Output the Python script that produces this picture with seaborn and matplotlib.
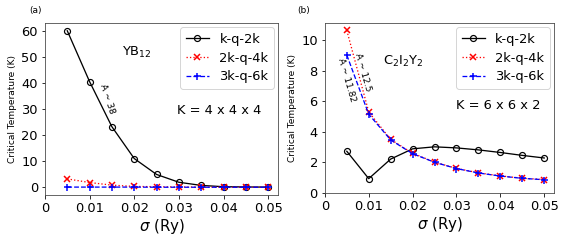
import numpy as np
import pandas as pd
import matplotlib
matplotlib.use("Agg")
import matplotlib.pyplot as plt
import seaborn as sns

sigma = [0.005, 0.01, 0.015, 0.02, 0.025, 0.03, 0.035, 0.04, 0.045, 0.05]
series_names = ["k-q-2k", "2k-q-4k", "3k-q-6k"]

yb12_kq2k = [60.0, 40.5, 23.2, 11.0, 4.9, 1.9, 0.7, 0.2, 0.1, 0.05]
yb12_2kq4k = [3.2, 1.8, 0.8, 0.3, 0.2, 0.1, 0.05, 0.0, 0.0, 0.0]
yb12_3kq6k = [0.05, 0.05, 0.05, 0.05, 0.0, 0.0, 0.0, 0.0, 0.0, 0.0]

c2i2y2_kq2k = [2.73, 0.94, 2.22, 2.89, 3.02, 2.95, 2.82, 2.65, 2.46, 2.29]
c2i2y2_2kq4k = [10.63, 5.30, 3.50, 2.60, 2.02, 1.61, 1.32, 1.12, 0.97, 0.88]
c2i2y2_3kq6k = [9.02, 5.15, 3.47, 2.57, 2.01, 1.60, 1.31, 1.11, 0.96, 0.87]

styles = [
    dict(color="black", linestyle="-", marker="o", markerfacecolor="none", markeredgecolor="black", markersize=6, markeredgewidth=1.2),
    dict(color="red", linestyle=":", marker="x", markeredgecolor="red", markersize=6, markeredgewidth=1.5),
    dict(color="blue", linestyle="--", marker="+", markeredgecolor="blue", markersize=7, markeredgewidth=1.5),
]

fig = plt.figure(figsize=(8, 3.5), dpi=72)
axL = fig.add_axes([0.078, 0.226, 0.405, 0.683])
axR = fig.add_axes([0.564, 0.234, 0.398, 0.675])

def draw(ax, ys):
    for name, y, st in zip(series_names, ys, styles):
        df = pd.DataFrame({"sigma": sigma, "Tc": y})
        sns.lineplot(data=df, x="sigma", y="Tc", ax=ax, label=name, linewidth=1.3, **st)
    ax.set_xlim(0, None)
    ax.set_xticks([0, 0.01, 0.02, 0.03, 0.04, 0.05])
    ax.set_xticklabels(["0", "0.01", "0.02", "0.03", "0.04", "0.05"])
    ax.tick_params(labelsize=13)
    ax.set_xlabel(r"$\sigma$ (Ry)", fontsize=15, labelpad=2)
    ax.set_ylabel("Critical Temperature (K)", fontsize=9)
    ax.legend(loc="upper right", fontsize=13, handlelength=1.8, frameon=True,
              borderaxespad=0.35, labelspacing=0.45)
    for sp in ax.spines.values():
        sp.set_color("#444444")

draw(axL, [yb12_kq2k, yb12_2kq4k, yb12_3kq6k])
draw(axR, [c2i2y2_kq2k, c2i2y2_2kq4k, c2i2y2_3kq6k])
axR.set_ylim(0, None)
axR.set_yticks([0, 2, 4, 6, 8, 10])
axL.set_yticks([0, 10, 20, 30, 40, 50, 60])

axL.text(0.0173, 51.5, r"YB$_{12}$", fontsize=13, va="center")
axL.text(0.039, 29.6, "K = 4 x 4 x 4", fontsize=13, ha="center", va="center")
axL.text(0.0139, 34, "A ~ 38", fontsize=9, rotation=-72, ha="center", va="center")

axR.text(0.0132, 8.6, r"C$_2$I$_2$Y$_2$", fontsize=13, va="center")
axR.text(0.0395, 5.75, "K = 6 x 6 x 2", fontsize=13, ha="center", va="center")
axR.text(0.0087, 7.9, "A ~ 12.5", fontsize=9, rotation=-74, ha="center", va="center")
axR.text(0.0049, 7.4, "A ~ 11.82", fontsize=9, rotation=-74, ha="center", va="center")

fig.text(35/576, 1-10/252, "(a)", fontsize=9, ha="center", va="center")
fig.text(304/576, 1-10/252, "(b)", fontsize=9, ha="center", va="center")

fig.savefig("out.png", dpi=72)
